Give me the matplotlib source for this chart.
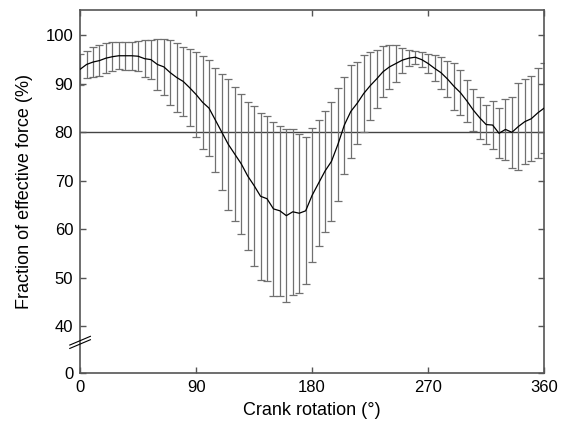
import numpy as np
import matplotlib.pyplot as plt

# crank angle (deg), mean fraction of effective force (%) and SD, every 5 deg
angle = np.arange(0, 361, 5)
mean_force = [93.0, 94.0, 94.5, 94.8, 95.3, 95.6, 95.8, 95.8, 95.8, 95.7,
              95.2, 95.0, 94.0, 93.5, 92.3, 91.3, 90.5, 89.2, 87.8, 86.2,
              85.0, 82.5, 80.0, 77.5, 75.5, 73.5, 71.0, 69.0, 66.8, 66.3,
              64.2, 63.8, 62.8, 63.6, 63.3, 63.8, 67.0, 69.5, 72.0, 74.0,
              77.5, 81.5, 84.3, 86.0, 88.0, 89.6, 91.0, 92.5, 93.5, 94.2,
              94.9, 95.3, 95.5, 95.0, 94.2, 93.2, 92.3, 91.0, 89.5, 88.2,
              86.5, 84.6, 83.0, 81.6, 81.5, 79.8, 80.6, 80.0, 81.2, 82.2,
              82.8, 84.0, 85.0]
sd_force = [3.2, 2.7, 3.1, 3.2, 3.1, 3.0, 2.8, 2.9, 2.9, 3.1,
            3.8, 4.1, 5.3, 5.8, 6.7, 7.1, 7.2, 8.0, 8.7, 9.6,
            9.9, 10.7, 12.0, 13.5, 13.8, 14.5, 15.3, 16.5, 17.2, 17.0,
            18.0, 17.6, 17.9, 17.1, 16.4, 15.2, 13.8, 13.0, 12.5, 12.2,
            11.7, 10.0, 9.5, 8.5, 8.0, 7.0, 6.0, 5.3, 4.5, 3.8,
            2.6, 1.6, 1.3, 1.5, 2.0, 2.7, 3.3, 3.8, 4.8, 4.7,
            4.3, 4.4, 4.3, 4.0, 5.0, 5.2, 6.3, 7.3, 8.9, 8.7,
            8.8, 9.3, 9.3]
ref_level = 80
x_ticks = [0, 90, 180, 270, 360]
y_ticks = [40, 50, 60, 70, 80, 90, 100]

# broken y axis: "0" sits at the bottom, just below 40
y_bottom = 30.3
y_top = 105.2

plt.rcParams['font.family'] = ['Liberation Sans', 'DejaVu Sans']

fig = plt.figure(figsize=(5.68, 4.25), dpi=100)
ax = fig.add_axes([0.141, 0.122, 0.817, 0.854])

ax.axhline(ref_level, color='#444444', lw=1.0, zorder=1)
ax.errorbar(angle, mean_force, yerr=sd_force, fmt='none', ecolor='#707070',
            elinewidth=0.9, capsize=3.2, capthick=0.9, zorder=2)
ax.plot(angle, mean_force, color='black', lw=0.9, zorder=3)

ax.set_xlim(0, 360)
ax.set_ylim(y_bottom, y_top)
ax.set_xticks(x_ticks)
ax.set_yticks([y_bottom] + y_ticks)
ax.set_yticklabels(['0'] + [str(v) for v in y_ticks])
ax.tick_params(direction='in', top=True, right=True, length=4,
               width=1.0, color='#555555', labelsize=12, pad=5)
for s in ax.spines.values():
    s.set_color('#555555')
    s.set_linewidth(1.2)

ax.set_xlabel('Crank rotation (°)', fontsize=13, labelpad=5)
ax.set_ylabel('Fraction of effective force (%)', fontsize=13, labelpad=9)

# break marks on the y axis
for dy in (0.0, 0.7):
    yv = 36.3 + dy
    ax.plot([-8, 8], [yv - 0.9, yv + 0.9], color='black', lw=0.8,
            clip_on=False, zorder=5)

fig.savefig('out.png', dpi=100)
